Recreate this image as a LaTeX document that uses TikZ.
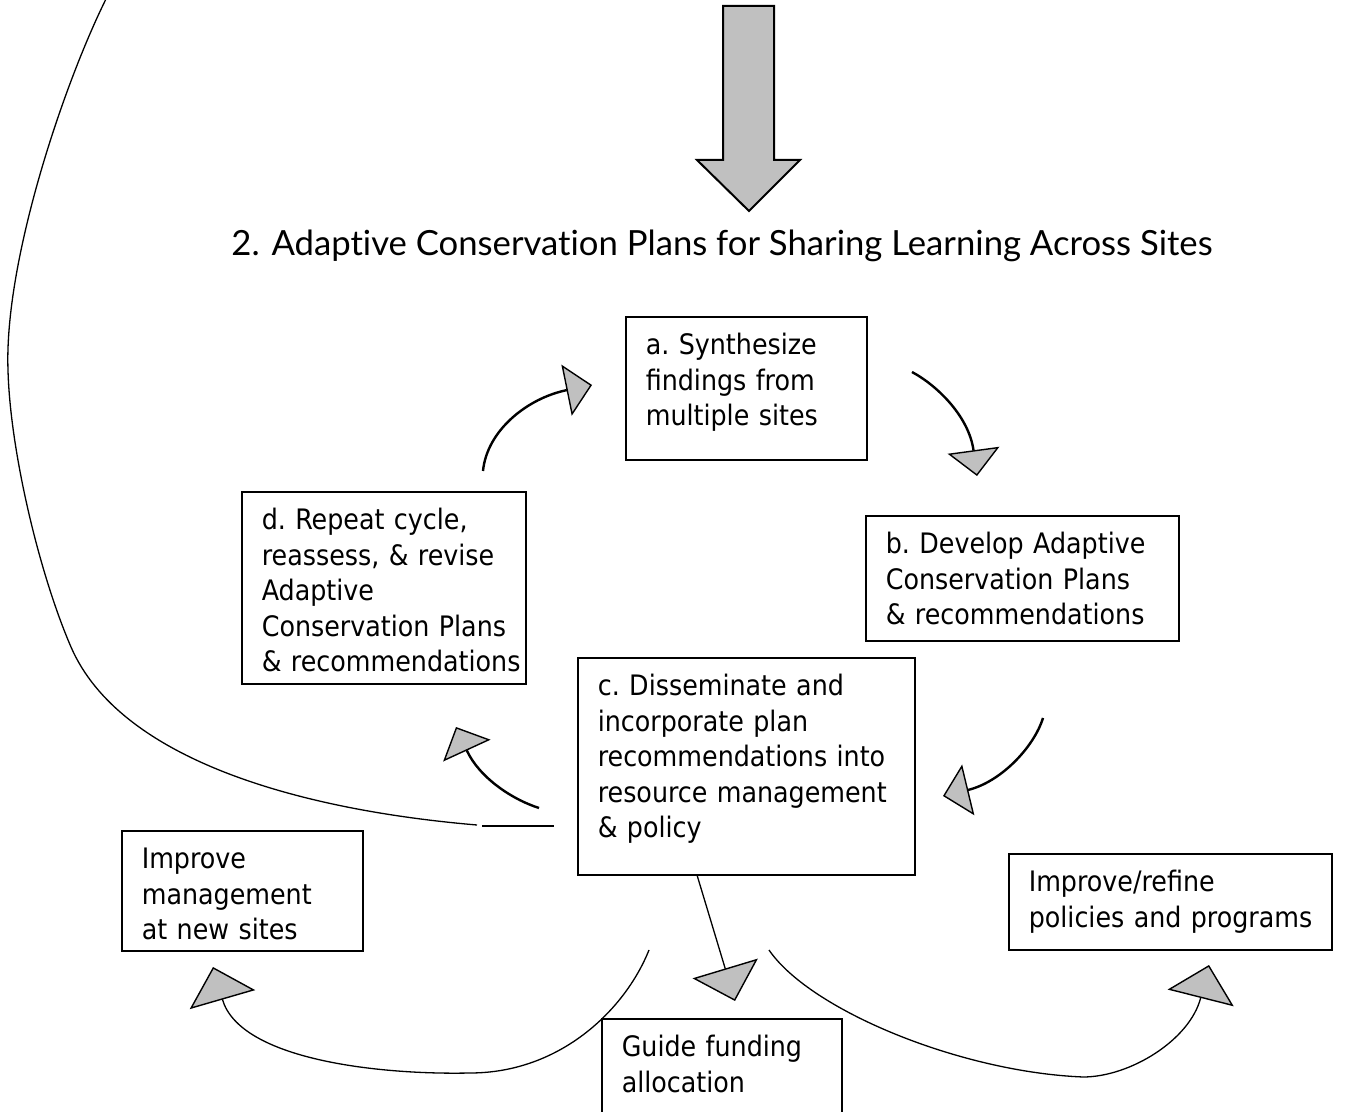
\documentclass[tikz,border=0pt]{standalone}
\usepackage{fontspec}
\setsansfont{DejaVu Sans Condensed}
\newfontfamily\titlefont[Ligatures=NoCommon]{Lato}
\usetikzlibrary{arrows.meta}

\definecolor{headgray}{RGB}{192,192,192}

\tikzset{
	box/.style={draw, line width=0.8pt, anchor=north west, align=left,
			inner xsep=3pt, inner ysep=8pt, text height=11pt,
			execute at begin node={\leftskip=7pt\hyphenpenalty=10000\relax},
			font=\sffamily\frenchspacing\fontsize{14.1}{17.75}\selectfont},
	cyclearrow/.style={line width=1.2pt,
			-{Triangle[width=26pt,length=13pt,fill=headgray,line width=0.7pt]}},
	outarrow/.style={line width=0.65pt,
			-{Triangle[width=34pt,length=17pt,fill=headgray,line width=0.7pt]}},
}

\begin{document}
\begin{tikzpicture}[x=0.5pt,y=-0.5pt,line join=miter]
	\useasboundingbox (0,0) rectangle (1346,1112);

	% incoming block arrow
	\draw [fill=headgray, line width=1pt] (723,6) -- (774,6) -- (774,160) -- (800,160)
		-- (749,211) -- (697,160) -- (723,160) -- cycle;

	\node[font=\titlefont\fontsize{17.34}{21}\selectfont, anchor=base] (title) at (722,256)
		{2. Adaptive Conservation Plans for Sharing Learning Across Sites};

	% the cycle
	\node[box, text width=114.5pt, text depth=44.5pt] (synth) at (625,316)
		{a. Synthesize\\findings from\\multiple sites};
	\node[box, text width=150.5pt, text depth=35.5pt] (develop) at (865,515)
		{b. Develop Adaptive\\Conservation Plans\\\& recommendations};
	\node[box, text width=162.5pt, text depth=81.5pt] (dissem) at (577,657)
		{c. Disseminate and\\incorporate plan\\recommendations into\\resource management\\\& policy};
	\node[box, text width=136pt, text depth=69pt] (repeat) at (241,491)
		{d. Repeat cycle,\\reassess, \& revise\\Adaptive\\Conservation Plans\\\&~recommendations};

	% outcomes
	\node[box, text width=114.5pt, text depth=33pt] (newsites) at (121,830)
		{Improve\\management\\at new sites};
	\node[box, text width=155.5pt, text depth=21pt] (policies) at (1008,853)
		{Improve/refine\\policies and programs};
	\node[box, text width=114pt, text depth=33pt] (funding) at (601,1018)
		{Guide funding\\allocation};

	% free ends of the connectors
	\coordinate (repeat out) at (483,471);
	\coordinate (synth in) at (592,385);
	\coordinate (synth out) at (912,372);
	\coordinate (develop in) at (977,476);
	\coordinate (develop out) at (1043,718);
	\coordinate (dissem in) at (943,796);
	\coordinate (dissem out) at (539,808);
	\coordinate (repeat in) at (456,727);
	\coordinate (back start) at (482,826);
	\coordinate (back end) at (554,826);
	\coordinate (loop start) at (477,825);
	\coordinate (loop end) at (108,-5);
	\coordinate (funding in) at (735,1001);
	\coordinate (newsites out) at (649,950);
	\coordinate (newsites in) at (213,967);
	\coordinate (policies out) at (769,950);
	\coordinate (policies in) at (1209,965);

	\draw [cyclearrow] (repeat out) .. controls (487,430) and (528,398) .. (synth in);
	\draw [cyclearrow] (synth out) .. controls (938,386) and (969,417) .. (develop in);
	\draw [cyclearrow] (develop out) .. controls (1034,747) and (1001,782) .. (dissem in);
	\draw [cyclearrow] (dissem out) .. controls (511,799) and (479,777) .. (repeat in);

	% long loop back up to the top
	\draw [line width=0.65pt] (back start) -- (back end);
	\draw [line width=0.65pt] (loop start) .. controls (300,810) and (120,760) .. (71,647)
		.. controls (39,573) and (10,450) .. (8,370)
		.. controls (4,260) and (65,80) .. (loop end);

	\draw [outarrow] (697,875) -- (funding in);
	\draw [outarrow] (newsites out) .. controls (625,1010) and (560,1073) .. (470,1073)
		.. controls (380,1075) and (240,1060) .. (newsites in);
	\draw [outarrow] (policies out) .. controls (810,1010) and (960,1072) .. (1083,1077)
		.. controls (1130,1077) and (1190,1040) .. (policies in);
\end{tikzpicture}
\end{document}
